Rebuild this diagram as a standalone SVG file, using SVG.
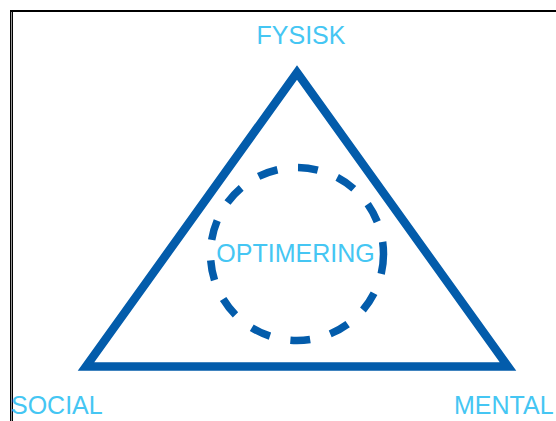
<svg xmlns="http://www.w3.org/2000/svg" width="556" height="421" viewBox="0 0 556 421">
  <style>
    .label { font-family: "Liberation Sans", Arial, sans-serif; font-size: 25px; fill: #45c6f3; }
    .shape { fill: none; stroke: #035cab; }
  </style>
  <rect x="0" y="0" width="556" height="421" fill="#ffffff"/>
  <!-- frame -->
  <g id="frame">
    <line x1="10" y1="11" x2="556" y2="11" stroke="#000" stroke-width="2"/>
    <line x1="10.5" y1="10" x2="10.5" y2="421" stroke="#000" stroke-width="1"/>
    <line x1="11.5" y1="12" x2="11.5" y2="421" stroke="#9a9a9a" stroke-width="1"/>
    <line x1="12.5" y1="12" x2="12.5" y2="421" stroke="#000" stroke-width="1"/>
  </g>
  <!-- outer triangle -->
  <g id="triangle">
    <polygon class="shape" points="297,72.5 508,366.5 86,366.5" stroke-width="8.5" stroke-linejoin="miter" stroke-miterlimit="10"/>
  </g>
  <!-- dashed centre circle with its label -->
  <g id="optimering">
    <circle class="shape" cx="297" cy="254" r="86.5" stroke-width="7.5" stroke-dasharray="20 20.8"/>
    <text class="label" x="295.5" y="262" text-anchor="middle">OPTIMERING</text>
  </g>
  <g id="fysisk">
    <text class="label" x="301" y="44" text-anchor="middle">FYSISK</text>
  </g>
  <g id="social">
    <text class="label" x="11" y="414">SOCIAL</text>
  </g>
  <g id="mental">
    <text class="label" x="454" y="414">MENTAL</text>
  </g>
</svg>
